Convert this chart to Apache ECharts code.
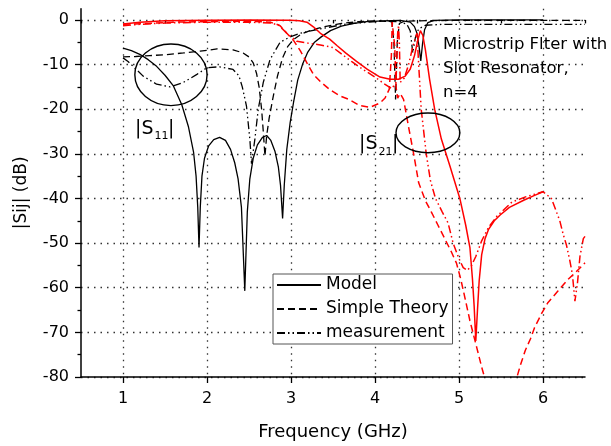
<!DOCTYPE html>
<html>
<head>
<meta charset="utf-8">
<script src="https://cdn.jsdelivr.net/npm/echarts@6/dist/echarts.min.js"></script>
<style>
html,body{margin:0;padding:0;background:#fff;}
#chart{width:611px;height:446px;}
</style>
</head>
<body>
<div id="chart"></div>
<script>
// ---------- axis ticks ----------
const xMajorTicks = [1, 2, 3, 4, 5, 6];
const xMinorTicks = [0.5, 1.5, 2.5, 3.5, 4.5, 5.5, 6.5];
const yMajorTicks = [-80, -70, -60, -50, -40, -30, -20, -10, 0];
const yMinorTicks = [-75, -65, -55, -45, -35, -25, -15, -5];

// ---------- series names ----------
const seriesNames = ['Model', 'Simple Theory', 'measurement'];

// ---------- |S11| (black) ----------
const s11Model = [[1.0,-6.3],[1.1,-6.9],[1.2,-7.7],[1.3,-8.9],[1.4,-10.4],[1.5,-12.4],[1.6,-14.8],[1.7,-19],[1.78,-24],[1.84,-29.6],[1.87,-35],[1.89,-42],[1.905,-51],[1.92,-42],[1.94,-35],[1.97,-31],[2.02,-28.2],[2.08,-26.8],[2.15,-26.3],[2.22,-27],[2.28,-29],[2.33,-32],[2.37,-35.6],[2.41,-42],[2.45,-60.7],[2.48,-43],[2.51,-35.6],[2.55,-31],[2.6,-28],[2.66,-26.3],[2.71,-25.9],[2.76,-27],[2.81,-29.5],[2.85,-33],[2.875,-37],[2.9,-44.5],[2.92,-37],[2.95,-29],[2.99,-23],[3.03,-18.5],[3.08,-13.5],[3.14,-9.8],[3.2,-7.2],[3.28,-5],[3.36,-3.8],[3.47,-2.4],[3.6,-1.4],[3.75,-0.8],[3.9,-0.4],[4.1,-0.2],[4.3,-0.1],[4.42,-0.5],[4.47,-1.5],[4.5,-3],[4.525,-6],[4.545,-9.2],[4.565,-5.5],[4.59,-2.2],[4.63,-0.6],[4.7,-0.1],[5.0,0],[5.5,0],[6.0,0]];
const s11Theory = [[1.0,-8.3],[1.15,-8.2],[1.32,-8.0],[1.5,-7.8],[1.72,-7.4],[1.92,-7.0],[2.12,-6.5],[2.31,-6.7],[2.43,-7.4],[2.5,-8.3],[2.55,-9.6],[2.59,-12],[2.62,-15],[2.65,-20],[2.67,-25],[2.69,-30.5],[2.71,-26],[2.74,-22],[2.79,-17],[2.84,-12.5],[2.9,-8.5],[2.96,-6],[3.03,-4.4],[3.12,-3.2],[3.25,-2.2],[3.4,-1.5],[3.6,-0.8],[3.8,-0.4],[4.0,-0.2],[4.2,-0.4],[4.225,-5],[4.245,-17.8],[4.265,-5],[4.29,-0.8],[4.35,-0.3],[4.5,-0.2],[5.0,-0.1],[6.0,-0.1],[6.5,-0.1]];
const s11Meas = [[1.0,-8.5],[1.06,-9.3],[1.12,-10.4],[1.24,-12.6],[1.4,-14.4],[1.56,-15],[1.72,-14],[1.88,-12.2],[2.0,-10.7],[2.15,-10.5],[2.31,-11.1],[2.38,-12.5],[2.42,-15],[2.47,-19.3],[2.51,-26.7],[2.53,-32.2],[2.57,-26.7],[2.61,-20],[2.67,-14],[2.75,-8.9],[2.87,-5],[2.99,-3.8],[3.11,-3.0],[3.25,-2.4],[3.38,-1.9],[3.66,-0.9],[4.06,-0.3],[4.3,-0.4],[4.38,-1],[4.42,-2.5],[4.45,-7.4],[4.48,-4],[4.52,-2],[4.6,-1.2],[4.8,-1],[5.5,-1],[6.5,-1]];

// ---------- |S21| (red) ----------
const s21Model = [[1.0,-0.9],[1.2,-0.5],[1.5,-0.2],[2.0,-0.05],[2.5,0],[3.0,-0.05],[3.1,-0.2],[3.19,-0.5],[3.27,-1.6],[3.35,-3],[3.46,-4.3],[3.55,-5.8],[3.65,-7.4],[3.78,-9.3],[3.91,-11.1],[4.06,-12.8],[4.18,-13.3],[4.28,-13.3],[4.36,-12.6],[4.42,-11],[4.47,-8],[4.51,-4.5],[4.54,-2.4],[4.57,-3.5],[4.6,-6.7],[4.65,-13.3],[4.71,-20],[4.79,-26.7],[4.89,-32.6],[5.01,-40],[5.08,-46],[5.13,-51],[5.16,-58],[5.18,-64],[5.2,-71.9],[5.22,-65],[5.24,-58.5],[5.27,-52.6],[5.31,-49],[5.35,-47],[5.42,-45],[5.49,-43.7],[5.6,-42],[5.77,-40.4],[5.9,-39.3],[6.0,-38.5]];
const s21Theory = [[1.0,-1.0],[1.3,-0.8],[1.6,-0.5],[2.0,-0.4],[2.5,-0.3],[2.75,-0.5],[2.82,-0.9],[2.87,-1.3],[2.95,-3],[3.03,-4.6],[3.11,-6.9],[3.2,-10],[3.27,-12.3],[3.36,-14],[3.46,-15.6],[3.58,-17],[3.7,-17.9],[3.82,-19.2],[3.94,-19.6],[4.06,-18.6],[4.12,-17.5],[4.17,-15.5],[4.195,-8],[4.205,-0.5],[4.22,-0.4],[4.235,-6],[4.25,-15],[4.27,-17.5],[4.3,-16.5],[4.34,-17.8],[4.4,-24],[4.46,-30],[4.52,-36.5],[4.6,-40.5],[4.67,-43],[4.75,-46],[4.83,-49],[4.91,-52],[4.97,-54.5],[5.02,-58],[5.07,-62.2],[5.13,-67.4],[5.21,-73.3],[5.27,-77.8],[5.34,-82.5],[5.5,null],[5.66,-82],[5.73,-77.4],[5.79,-74],[5.85,-71.5],[5.9,-68.9],[5.98,-65.9],[6.06,-63.3],[6.18,-60.7],[6.3,-58.1],[6.38,-56.7],[6.44,-55.6],[6.5,-54.4]];
const s21Meas = [[1.0,-1.3],[1.2,-1.0],[1.5,-0.7],[2.0,-0.5],[2.5,-0.5],[2.75,-0.7],[2.85,-1.1],[2.95,-3],[3.07,-4.8],[3.2,-5.2],[3.35,-5.6],[3.5,-6.2],[3.6,-7.6],[3.72,-9.3],[3.85,-11],[4.0,-12.8],[4.1,-14.2],[4.2,-15.4],[4.25,-14],[4.27,-3],[4.28,-1.2],[4.29,-5],[4.3,-14],[4.35,-13],[4.4,-10],[4.45,-6],[4.49,-3.5],[4.5,-3],[4.52,-10],[4.55,-20],[4.61,-30],[4.66,-36],[4.72,-40],[4.8,-43],[4.87,-45.5],[4.93,-50],[5.0,-53.5],[5.05,-55.5],[5.1,-56.1],[5.15,-55],[5.2,-53],[5.27,-49.5],[5.35,-46.5],[5.45,-44],[5.63,-40.8],[5.8,-39.6],[6.0,-38.5],[6.1,-40],[6.2,-45],[6.24,-48],[6.28,-50.5],[6.32,-54],[6.35,-57],[6.38,-63],[6.41,-59],[6.44,-53],[6.48,-49],[6.5,-48.5]];

// ---------- annotations (data-space anchors) ----------
const ellipseAnn = [[1.571, -12.3, 0.43, 6.9], [4.63, -25.3, 0.38, 4.45]];
const sLabelAnn = [[1.143, -24.4], [3.81, -27.9]];
const sLabelSubs = ['11', '21'];
const noteAnn = [[4.81, -2.9]];
const noteText = 'Microstrip Flter with\nSlot Resonator,\nn=4';

// ---------- styles ----------
const FONT = 'DejaVu Sans';
const dashTheory = [7, 4];
const dashMeas = [8, 3, 1.5, 3, 1.5, 3];
const BLACK = '#000000';
const RED = '#ff0000';

function lineSeries(name, data, color, type, width) {
  return {
    name: name, type: 'line', data: data, symbol: 'none', showSymbol: false,
    connectNulls: false, clip: true, animation: false, silent: true,
    xAxisIndex: 0, yAxisIndex: 0,
    lineStyle: { color: color, width: width, type: type },
    itemStyle: { color: color }
  };
}

const chart = echarts.init(document.getElementById('chart'), null, { renderer: 'canvas' });

const gridDots = { type: [1.5, 5], color: '#333', width: 1.3 };

const option = {
  animation: false,
  backgroundColor: '#fff',
  textStyle: { fontFamily: FONT, color: '#000' },
  grid: { left: 81, right: 26, top: 8.75, bottom: 66, containLabel: false },
  xAxis: [
    {
      type: 'value', min: 0.5, max: 6.5, position: 'bottom',
      name: 'Frequency (GHz)', nameLocation: 'middle', nameGap: 46,
      nameTextStyle: { fontSize: 18, fontFamily: FONT, color: '#000' },
      axisLine: { show: true, onZero: false, lineStyle: { color: '#000', width: 1.5 } },
      axisTick: { show: true, customValues: xMajorTicks, length: 6, lineStyle: { color: '#000', width: 1.3 } },
      axisLabel: { show: true, customValues: xMajorTicks, fontSize: 16, fontFamily: FONT, color: '#000', margin: 14 },
      splitLine: { show: true, lineStyle: gridDots }
    },
    {
      type: 'value', min: 0.5, max: 6.5, position: 'bottom',
      axisLine: { show: false },
      axisTick: { show: true, customValues: xMinorTicks, length: 3.5, lineStyle: { color: '#000', width: 1.3 } },
      axisLabel: { show: false },
      splitLine: { show: false }
    }
  ],
  yAxis: [
    {
      type: 'value', min: -80, max: 2.5, position: 'left',
      name: '|Sij| (dB)', nameLocation: 'middle', nameGap: 51, nameRotate: 90,
      nameTextStyle: { fontSize: 17, fontFamily: FONT, color: '#000' },
      axisLine: { show: true, onZero: false, lineStyle: { color: '#000', width: 1.5 } },
      axisTick: { show: true, customValues: yMajorTicks, length: 6, lineStyle: { color: '#000', width: 1.3 } },
      axisLabel: { show: true, customValues: yMajorTicks, fontSize: 16, fontFamily: FONT, color: '#000', margin: 12 },
      splitLine: { show: true, lineStyle: gridDots }
    },
    {
      type: 'value', min: -80, max: 2.5, position: 'left',
      axisLine: { show: false },
      axisTick: { show: true, customValues: yMinorTicks, length: 3.5, lineStyle: { color: '#000', width: 1.3 } },
      axisLabel: { show: false },
      splitLine: { show: false }
    }
  ],
  legend: {
    data: seriesNames,
    orient: 'vertical',
    left: 273, top: 274,
    padding: [1, 4, 1, 3],
    itemGap: 4,
    itemWidth: 44, itemHeight: 14,
    backgroundColor: '#fff',
    borderColor: '#555', borderWidth: 1, borderRadius: 0,
    itemStyle: { opacity: 0 },
    textStyle: { fontSize: 17, fontFamily: FONT, color: '#000', lineHeight: 20 },
    selectedMode: false
  },
  series: [
    lineSeries(seriesNames[0], s11Model, BLACK, 'solid', 1.3),
    lineSeries(seriesNames[1], s11Theory, BLACK, dashTheory, 1.3),
    lineSeries(seriesNames[2], s11Meas, BLACK, dashMeas, 1.3),
    lineSeries('S21 ' + seriesNames[0], s21Model, RED, 'solid', 1.5),
    lineSeries('S21 ' + seriesNames[1], s21Theory, RED, dashTheory, 1.5),
    lineSeries('S21 ' + seriesNames[2], s21Meas, RED, dashMeas, 1.5),
    {
      type: 'custom', name: 'ellipses', coordinateSystem: 'cartesian2d', xAxisIndex: 0, yAxisIndex: 0,
      silent: true, clip: false, z: 5, data: ellipseAnn,
      renderItem: function (params, api) {
        const c = api.coord([api.value(0), api.value(1)]);
        const s = api.size([api.value(2), api.value(3)]);
        return { type: 'ellipse', shape: { cx: c[0], cy: c[1], rx: s[0], ry: s[1] },
                 style: { fill: 'none', stroke: '#000', lineWidth: 1.4 } };
      }
    },
    {
      type: 'custom', name: 'slabels', coordinateSystem: 'cartesian2d', xAxisIndex: 0, yAxisIndex: 0,
      silent: true, clip: false, z: 6, data: sLabelAnn,
      renderItem: function (params, api) {
        const c = api.coord([api.value(0), api.value(1)]);
        const sub = sLabelSubs[params.dataIndex];
        return {
          type: 'group', children: [
            { type: 'text', x: c[0], y: c[1], style: { text: '|S', fontSize: 19, fontFamily: FONT, fill: '#000', align: 'left', verticalAlign: 'middle' } },
            { type: 'text', x: c[0] + 19.5, y: c[1] + 7.5, style: { text: sub, fontSize: 11, fontFamily: FONT, fill: '#000', align: 'left', verticalAlign: 'middle' } },
            { type: 'text', x: c[0] + 33, y: c[1], style: { text: '|', fontSize: 19, fontFamily: FONT, fill: '#000', align: 'left', verticalAlign: 'middle' } }
          ]
        };
      }
    },
    {
      type: 'custom', name: 'note', coordinateSystem: 'cartesian2d', xAxisIndex: 0, yAxisIndex: 0,
      silent: true, clip: false, z: 6, data: noteAnn,
      renderItem: function (params, api) {
        const c = api.coord([api.value(0), api.value(1)]);
        return { type: 'text', x: c[0], y: c[1],
                 style: { text: noteText, fontSize: 16.5, fontFamily: FONT, fill: '#000', align: 'left', verticalAlign: 'top', lineHeight: 24 } };
      }
    }
  ]
};

chart.setOption(option);
</script>
</body>
</html>
